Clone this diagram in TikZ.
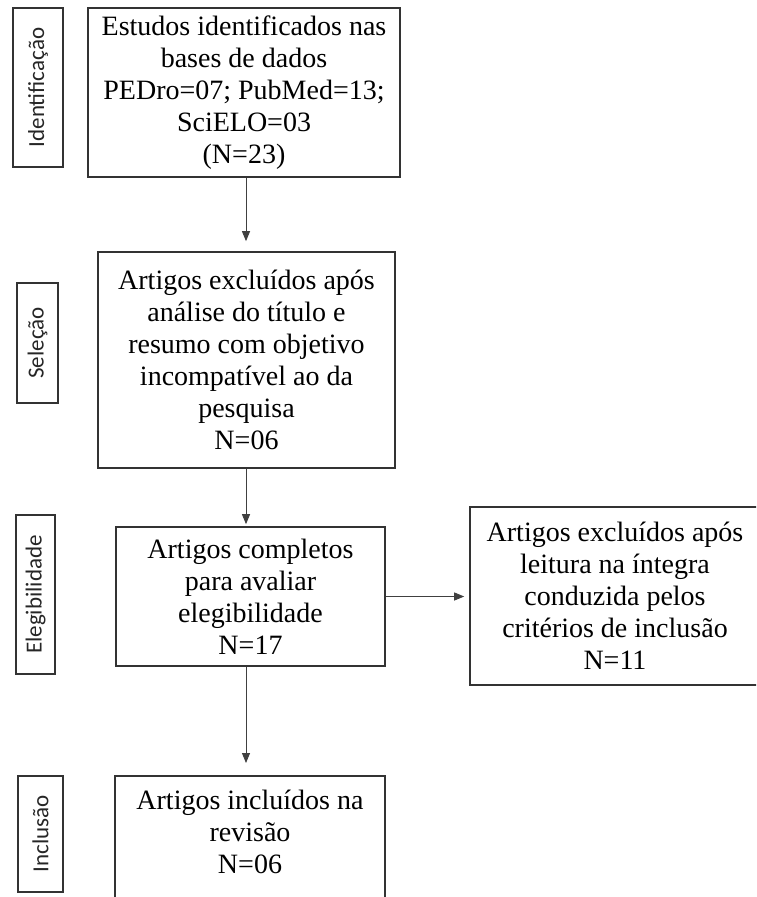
\documentclass[tikz,border=0pt]{standalone}
\usepackage{fontspec}
\setmainfont{Liberation Serif}
\newfontfamily\stagefont{Carlito}
\usetikzlibrary{arrows.meta}
\begin{document}
\begin{tikzpicture}[x=1pt,y=-1pt,
  flowbox/.style={draw=black!80, line width=1.6pt, align=center, inner sep=0pt,
    font=\fontsize{28}{32}\selectfont, text=black},
  stagebox/.style={draw=black!80, line width=1.6pt, rotate=90, inner sep=0pt,
    font=\stagefont\fontsize{23}{27}\selectfont, text=black!85},
  flowarrow/.style={draw=black!75, line width=0.9pt,
    -{Triangle[width=8pt,length=10pt]}}
]
% page area
\fill[white] (0,0) rectangle (756,897);
\clip (0,0) rectangle (756,897);

% stage labels on the left
\node[stagebox, minimum width=159pt, minimum height=50pt] (sIdent) at (38,87.5) {Identificação};
\node[stagebox, minimum width=120pt, minimum height=41pt] (sSel) at (37.5,343) {Seleção};
\node[stagebox, minimum width=159pt, minimum height=39pt] (sEleg) at (35.5,594.5) {Elegibilidade};
\node[stagebox, minimum width=116pt, minimum height=45pt] (sIncl) at (40.5,834) {Inclusão};

% flow boxes
\node[flowbox, minimum width=312pt, minimum height=169pt] (box1) at (244,92.5)
  {Estudos identificados nas\\bases de dados\\PEDro=07; PubMed=13;\\SciELO=03\\(N=23)};
\node[flowbox, minimum width=297pt, minimum height=216pt] (box2) at (246.5,360)
  {Artigos excluídos após\\análise do título e\\resumo com objetivo\\incompatível ao da\\pesquisa\\N=06};
\node[flowbox, minimum width=269pt, minimum height=139pt] (box3) at (250.5,596.5)
  {Artigos completos\\para avaliar\\elegibilidade\\N=17};
\node[flowbox, minimum width=290pt, minimum height=178pt] (box4) at (615,596)
  {Artigos excluídos após\\leitura na íntegra\\conduzida pelos\\critérios de inclusão\\N=11};
\node[flowbox, draw=none, minimum width=268pt, minimum height=111pt, anchor=north] (box5) at (250,776)
  {Artigos incluídos na\\revisão\\N=06};
\draw[draw=black!80, line width=1.6pt]
  ([yshift=-40pt]box5.south west) -- (box5.north west) -- (box5.north east) -- ([yshift=-40pt]box5.south east);

% connectors
\coordinate (ax) at (246,0);
\draw[flowarrow, shorten >=10pt] (box1.south -| ax) -- (box2.north -| ax);
\draw[flowarrow, shorten >=2pt] (box2.south -| ax) -- (box3.north -| ax);
\draw[flowarrow, shorten >=5pt] (box3.east) -- (box4.west |- box3.east);
\draw[flowarrow, shorten >=13pt] (box3.south -| ax) -- (box5.north -| ax);
\end{tikzpicture}
\end{document}
